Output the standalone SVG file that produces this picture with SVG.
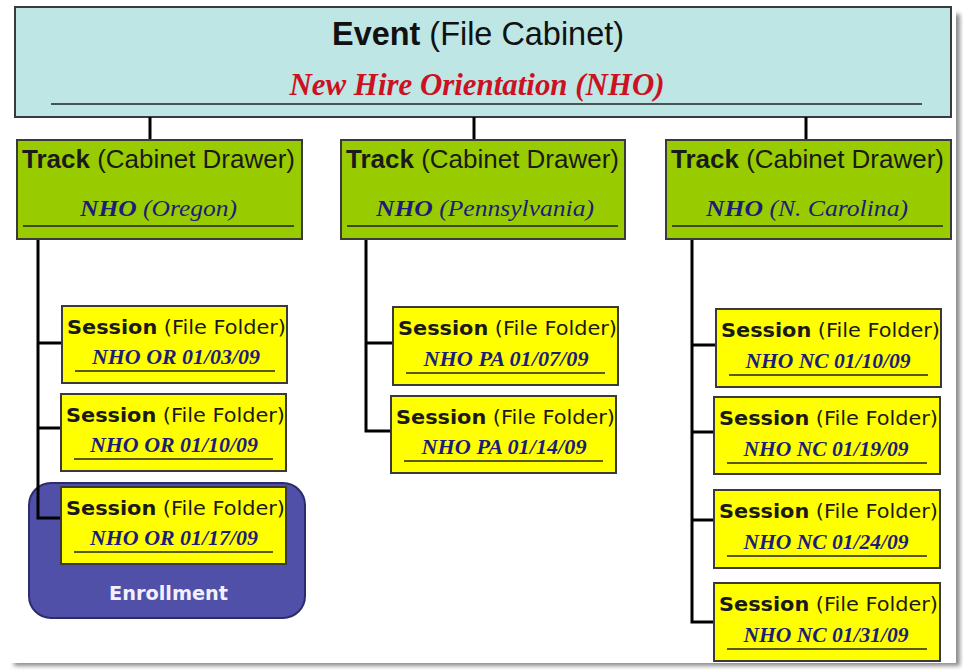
<svg xmlns="http://www.w3.org/2000/svg" width="963" height="670" viewBox="0 0 963 670">
<defs>
<filter id="pageShadow" x="-5%" y="-5%" width="110%" height="110%"><feGaussianBlur stdDeviation="2"/></filter>
<style>
.sans{font-family:"Liberation Sans",Arial,sans-serif;}
.dv{font-family:"DejaVu Sans",Verdana,sans-serif;}
.serif{font-family:"Liberation Serif","Times New Roman",serif;}
.box{stroke:#3a3a3a;stroke-width:2;}
.event{fill:#bde6e5;}
.track{fill:#99cc00;}
.session{fill:#ffff00;}
.ul{stroke:#222;stroke-width:1.6;}
.conn{stroke:#000;stroke-width:3;fill:none;}
.t1{font-size:19px;fill:#1a1a1a;}
.t2{font-size:22px;font-weight:bold;font-style:italic;fill:#1c1c7a;text-anchor:middle;}
.tt{font-size:25px;fill:#1a1a1a;}
.ts{font-size:24px;font-style:italic;fill:#1c1c7a;text-anchor:middle;}
</style>
</defs>
<rect x="0" y="0" width="963" height="670" fill="#ffffff"/>
<rect x="14" y="14" width="946" height="652" fill="#8c8c8c" filter="url(#pageShadow)"/>
<rect x="0" y="0" width="956" height="663" fill="#ffffff"/>

<g id="event">
<rect class="box event" x="15" y="7" width="936" height="110"/>
<text class="sans" x="478" y="45" font-size="33" text-anchor="middle" fill="#111" textLength="292" lengthAdjust="spacingAndGlyphs"><tspan font-weight="bold">Event</tspan> (File Cabinet)</text>
<text class="serif" x="477" y="95" font-size="32" font-weight="bold" font-style="italic" fill="#cc1122" text-anchor="middle" textLength="375" lengthAdjust="spacingAndGlyphs">New Hire Orientation (NHO)</text>
<line class="ul" x1="51" y1="104" x2="922" y2="104"/>
</g>

<g id="enrollment">
<rect x="29" y="483" width="276" height="135" rx="22" ry="22" fill="#5050a8" stroke="#2c2c6c" stroke-width="2"/>
<text class="dv" x="168.5" y="600" font-size="19" font-weight="bold" fill="#f0f0ff" text-anchor="middle" textLength="119" lengthAdjust="spacingAndGlyphs">Enrollment</text>
</g>

<g id="connectors">
<line class="conn" x1="150" y1="117" x2="150" y2="140"/>
<line class="conn" x1="474" y1="117" x2="474" y2="140"/>
<line class="conn" x1="806" y1="117" x2="806" y2="140"/>
<path class="conn" d="M38,239 V518 H62 M38,343 H62 M38,428 H61"/>
<path class="conn" d="M366,239 V431 H391 M366,343 H393"/>
<path class="conn" d="M692,239 V622 H714 M692,345 H716 M692,432 H714 M692,520 H714"/>
</g>

<g id="track-oregon">
<rect class="box track" x="17" y="140" width="285" height="99"/>
<text class="sans tt" x="22" y="168" textLength="273" lengthAdjust="spacingAndGlyphs"><tspan font-weight="bold">Track</tspan> (Cabinet Drawer)</text>
<text class="serif ts" x="158.5" y="216" textLength="157" lengthAdjust="spacingAndGlyphs"><tspan font-weight="bold">NHO</tspan> (Oregon)</text>
<line class="ul" x1="23" y1="226" x2="294" y2="226"/>
</g>

<g id="track-pennsylvania">
<rect class="box track" x="341" y="140" width="284" height="99"/>
<text class="sans tt" x="346" y="168" textLength="273" lengthAdjust="spacingAndGlyphs"><tspan font-weight="bold">Track</tspan> (Cabinet Drawer)</text>
<text class="serif ts" x="485" y="216" textLength="218" lengthAdjust="spacingAndGlyphs"><tspan font-weight="bold">NHO</tspan> (Pennsylvania)</text>
<line class="ul" x1="347" y1="226" x2="618" y2="226"/>
</g>

<g id="track-ncarolina">
<rect class="box track" x="666" y="140" width="285" height="99"/>
<text class="sans tt" x="671" y="168" textLength="273" lengthAdjust="spacingAndGlyphs"><tspan font-weight="bold">Track</tspan> (Cabinet Drawer)</text>
<text class="serif ts" x="807" y="216" textLength="202" lengthAdjust="spacingAndGlyphs"><tspan font-weight="bold">NHO</tspan> (N. Carolina)</text>
<line class="ul" x1="672" y1="226" x2="943" y2="226"/>
</g>

<g id="session-or-0103">
<rect class="box session" x="62" y="306" width="225" height="77"/>
<text class="dv t1" x="67" y="334" textLength="219" lengthAdjust="spacingAndGlyphs"><tspan font-weight="bold">Session</tspan> (File Folder)</text>
<text class="serif t2" x="176" y="364" textLength="168" lengthAdjust="spacingAndGlyphs">NHO OR 01/03/09</text>
<line class="ul" x1="75" y1="371" x2="275" y2="371"/>
</g>

<g id="session-or-0110">
<rect class="box session" x="61" y="394" width="225" height="77"/>
<text class="dv t1" x="66" y="422" textLength="219" lengthAdjust="spacingAndGlyphs"><tspan font-weight="bold">Session</tspan> (File Folder)</text>
<text class="serif t2" x="174" y="452" textLength="168" lengthAdjust="spacingAndGlyphs">NHO OR 01/10/09</text>
<line class="ul" x1="74" y1="459" x2="273" y2="459"/>
</g>

<g id="session-or-0117">
<rect class="box session" x="61" y="487" width="225" height="77"/>
<text class="dv t1" x="66" y="515" textLength="219" lengthAdjust="spacingAndGlyphs"><tspan font-weight="bold">Session</tspan> (File Folder)</text>
<text class="serif t2" x="174" y="545" textLength="168" lengthAdjust="spacingAndGlyphs">NHO OR 01/17/09</text>
<line class="ul" x1="74" y1="552" x2="273" y2="552"/>
</g>

<g id="session-pa-0107">
<rect class="box session" x="393" y="307" width="225" height="78"/>
<text class="dv t1" x="398" y="335" textLength="219" lengthAdjust="spacingAndGlyphs"><tspan font-weight="bold">Session</tspan> (File Folder)</text>
<text class="serif t2" x="506" y="366" textLength="165" lengthAdjust="spacingAndGlyphs">NHO PA 01/07/09</text>
<line class="ul" x1="406" y1="373" x2="605" y2="373"/>
</g>

<g id="session-pa-0114">
<rect class="box session" x="391" y="396" width="225" height="77"/>
<text class="dv t1" x="396" y="424" textLength="219" lengthAdjust="spacingAndGlyphs"><tspan font-weight="bold">Session</tspan> (File Folder)</text>
<text class="serif t2" x="504" y="454" textLength="165" lengthAdjust="spacingAndGlyphs">NHO PA 01/14/09</text>
<line class="ul" x1="404" y1="461" x2="603" y2="461"/>
</g>

<g id="session-nc-0110">
<rect class="box session" x="716" y="309" width="225" height="78"/>
<text class="dv t1" x="721" y="337" textLength="219" lengthAdjust="spacingAndGlyphs"><tspan font-weight="bold">Session</tspan> (File Folder)</text>
<text class="serif t2" x="828" y="368" textLength="165" lengthAdjust="spacingAndGlyphs">NHO NC 01/10/09</text>
<line class="ul" x1="729" y1="375" x2="928" y2="375"/>
</g>

<g id="session-nc-0119">
<rect class="box session" x="714" y="397" width="226" height="77"/>
<text class="dv t1" x="719" y="425" textLength="219" lengthAdjust="spacingAndGlyphs"><tspan font-weight="bold">Session</tspan> (File Folder)</text>
<text class="serif t2" x="826" y="456" textLength="165" lengthAdjust="spacingAndGlyphs">NHO NC 01/19/09</text>
<line class="ul" x1="727" y1="463" x2="927" y2="463"/>
</g>

<g id="session-nc-0124">
<rect class="box session" x="714" y="490" width="226" height="78"/>
<text class="dv t1" x="719" y="518" textLength="219" lengthAdjust="spacingAndGlyphs"><tspan font-weight="bold">Session</tspan> (File Folder)</text>
<text class="serif t2" x="826" y="549" textLength="165" lengthAdjust="spacingAndGlyphs">NHO NC 01/24/09</text>
<line class="ul" x1="727" y1="556" x2="927" y2="556"/>
</g>

<g id="session-nc-0131">
<rect class="box session" x="714" y="583" width="226" height="78"/>
<text class="dv t1" x="719" y="611" textLength="219" lengthAdjust="spacingAndGlyphs"><tspan font-weight="bold">Session</tspan> (File Folder)</text>
<text class="serif t2" x="826" y="642" textLength="165" lengthAdjust="spacingAndGlyphs">NHO NC 01/31/09</text>
<line class="ul" x1="727" y1="649" x2="927" y2="649"/>
</g>
</svg>
